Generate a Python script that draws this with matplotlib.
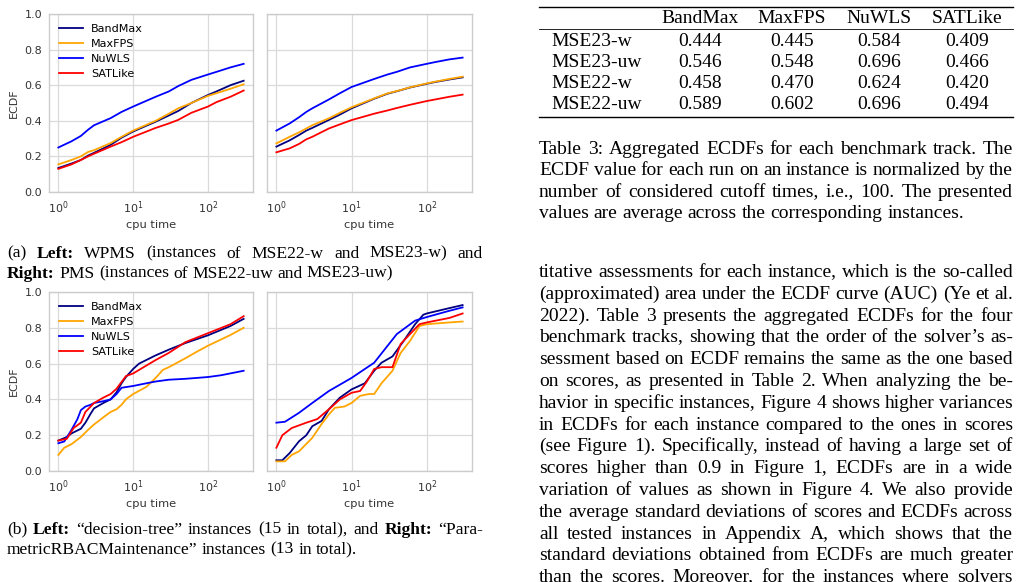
import math
import matplotlib
matplotlib.use("Agg")
import matplotlib.pyplot as plt
from matplotlib.lines import Line2D

W, H = 1023, 582

solvers = ["BandMax", "MaxFPS", "NuWLS", "SATLike"]
colors = ["#000080", "#ffa500", "#0000ff", "#ff0000"]

# (a) left: WPMS, (a) right: PMS  -- shared time grid
a_t = [1, 1.5, 2, 2.5, 3, 5, 7, 10, 20, 30, 40, 60, 100, 130, 200, 300]
wpms_bandmax = [0.135, 0.16, 0.18, 0.205, 0.22, 0.265, 0.305, 0.34, 0.395, 0.43, 0.455, 0.50, 0.545, 0.565, 0.60, 0.625]
wpms_maxfps = [0.155, 0.18, 0.20, 0.225, 0.235, 0.275, 0.31, 0.345, 0.40, 0.44, 0.47, 0.50, 0.54, 0.555, 0.58, 0.605]
wpms_nuwls = [0.25, 0.285, 0.315, 0.35, 0.375, 0.415, 0.45, 0.48, 0.535, 0.565, 0.595, 0.63, 0.66, 0.675, 0.70, 0.72]
wpms_satlike = [0.13, 0.155, 0.18, 0.20, 0.215, 0.255, 0.28, 0.31, 0.36, 0.385, 0.405, 0.445, 0.48, 0.505, 0.535, 0.57]

pms_bandmax = [0.255, 0.29, 0.32, 0.345, 0.36, 0.405, 0.435, 0.47, 0.524, 0.552, 0.566, 0.587, 0.608, 0.618, 0.632, 0.644]
pms_maxfps = [0.273, 0.31, 0.335, 0.357, 0.375, 0.414, 0.445, 0.476, 0.526, 0.554, 0.567, 0.588, 0.61, 0.62, 0.635, 0.648]
pms_nuwls = [0.345, 0.385, 0.42, 0.45, 0.47, 0.52, 0.555, 0.59, 0.635, 0.66, 0.675, 0.70, 0.72, 0.73, 0.745, 0.755]
pms_satlike = [0.223, 0.245, 0.27, 0.296, 0.31, 0.357, 0.38, 0.404, 0.44, 0.458, 0.472, 0.49, 0.511, 0.52, 0.535, 0.547]

# (b) left: decision-tree
dt_bandmax_t = [1, 1.3, 1.5, 2, 2.3, 2.7, 3, 4, 5, 6, 7, 8, 10, 12, 20, 30, 50, 100, 200, 300]
dt_bandmax = [0.17, 0.19, 0.21, 0.236, 0.27, 0.32, 0.35, 0.38, 0.40, 0.44, 0.49, 0.525, 0.57, 0.60, 0.646, 0.678, 0.715, 0.758, 0.81, 0.85]
dt_maxfps_t = [1, 1.2, 1.5, 2, 2.5, 3, 4, 5, 6, 7, 8, 10, 15, 20, 25, 30, 50, 70, 100, 200, 300]
dt_maxfps = [0.09, 0.13, 0.15, 0.19, 0.23, 0.26, 0.30, 0.33, 0.345, 0.37, 0.40, 0.43, 0.47, 0.52, 0.565, 0.58, 0.63, 0.665, 0.70, 0.76, 0.80]
dt_nuwls_t = [1, 1.2, 1.5, 1.8, 2, 2.3, 2.7, 3, 4, 5, 6, 7, 10, 15, 20, 30, 50, 100, 150, 300]
dt_nuwls = [0.155, 0.165, 0.23, 0.29, 0.34, 0.36, 0.37, 0.38, 0.39, 0.40, 0.43, 0.465, 0.475, 0.49, 0.50, 0.51, 0.515, 0.525, 0.535, 0.56]
dt_satlike_t = [1, 1.3, 1.6, 2, 2.3, 2.7, 3, 4, 5, 6, 8, 10, 20, 30, 50, 100, 200, 300]
dt_satlike = [0.17, 0.18, 0.24, 0.27, 0.33, 0.36, 0.38, 0.41, 0.43, 0.46, 0.53, 0.545, 0.62, 0.66, 0.72, 0.77, 0.82, 0.865]

# (b) right: ParametricRBACMaintenance
rb_bandmax_t = [1, 1.2, 1.5, 2, 2.5, 3, 4, 5, 7, 10, 15, 20, 25, 35, 50, 70, 90, 100, 200, 300]
rb_bandmax = [0.06, 0.06, 0.10, 0.166, 0.20, 0.25, 0.28, 0.345, 0.41, 0.456, 0.49, 0.56, 0.605, 0.64, 0.73, 0.82, 0.873, 0.88, 0.91, 0.927]
rb_maxfps_t = [1, 1.3, 1.6, 2, 3, 4, 5, 6, 8, 10, 13, 17, 20, 25, 35, 45, 60, 80, 100, 200, 300]
rb_maxfps = [0.054, 0.054, 0.09, 0.11, 0.185, 0.263, 0.316, 0.353, 0.36, 0.38, 0.42, 0.43, 0.43, 0.49, 0.56, 0.66, 0.727, 0.81, 0.82, 0.83, 0.835]
rb_nuwls_t = [1, 1.3, 2, 3, 5, 10, 20, 40, 70, 100, 200, 300]
rb_nuwls = [0.27, 0.275, 0.325, 0.38, 0.447, 0.52, 0.605, 0.765, 0.84, 0.86, 0.895, 0.914]
rb_satlike_t = [1, 1.2, 1.6, 2.5, 3.5, 5, 7, 10, 13, 16, 20, 25, 35, 45, 60, 80, 100, 200, 300]
rb_satlike = [0.13, 0.20, 0.24, 0.27, 0.29, 0.345, 0.40, 0.437, 0.447, 0.50, 0.57, 0.58, 0.58, 0.71, 0.765, 0.82, 0.83, 0.855, 0.88]

table_rows = ["MSE23-w", "MSE23-uw", "MSE22-w", "MSE22-uw"]
table_vals = [["0.444", "0.445", "0.584", "0.409"],
              ["0.546", "0.548", "0.696", "0.466"],
              ["0.458", "0.470", "0.624", "0.420"],
              ["0.589", "0.602", "0.696", "0.494"]]

fig = plt.figure(figsize=(W / 100, H / 100), dpi=100)


def px_axes(x0, y0, x1, y1):
    return fig.add_axes([x0 / W, 1 - y1 / H, (x1 - x0) / W, (y1 - y0) / H])


def style(ax, show_y):
    ax.set_xscale("log")
    ax.set_xlim(0.75, 400)
    ax.set_ylim(0, 1)
    ax.set_yticks([0, 0.2, 0.4, 0.6, 0.8, 1.0])
    ax.grid(True, color="#dadada", lw=0.9)
    ax.set_axisbelow(True)
    for s in ax.spines.values():
        s.set_color("#cccccc")
        s.set_linewidth(1.0)
    ax.tick_params(length=0, labelsize=8, colors="#333333", pad=5)
    ax.minorticks_off()
    ax.set_xlabel("cpu time", fontsize=8.2, color="#333333", labelpad=3)
    if show_y:
        ax.set_ylabel("ECDF", fontsize=8, color="#333333", labelpad=4)
    else:
        ax.set_yticklabels([])


panels = [
    (px_axes(49, 14, 253, 192), [a_t] * 4, [wpms_bandmax, wpms_maxfps, wpms_nuwls, wpms_satlike], True),
    (px_axes(267, 14, 472, 192), [a_t] * 4, [pms_bandmax, pms_maxfps, pms_nuwls, pms_satlike], False),
    (px_axes(49, 292, 253, 471), [dt_bandmax_t, dt_maxfps_t, dt_nuwls_t, dt_satlike_t],
     [dt_bandmax, dt_maxfps, dt_nuwls, dt_satlike], True),
    (px_axes(267, 292, 472, 471), [rb_bandmax_t, rb_maxfps_t, rb_nuwls_t, rb_satlike_t],
     [rb_bandmax, rb_maxfps, rb_nuwls, rb_satlike], False),
]

for ax, ts, ys, left in panels:
    for t, y, name, c in zip(ts, ys, solvers, colors):
        ax.plot(t, y, color=c, lw=1.3, label=name)
    style(ax, left)
    if left:
        ax.legend(loc="upper left", frameon=False, fontsize=8, handlelength=2.2,
                  labelspacing=0.45, handletextpad=0.7)

# ---- text helpers (justified serif text like the paper page)
r = fig.canvas.get_renderer()
serif = "Liberation Serif"


def ptext(x, y, s, size, weight="normal", ha="left"):
    # y is a top-down pixel baseline; nudge by the fractional descent so that
    # words with commas etc. share one baseline after Agg rounding
    t = fig.text(x / W, 0, s, fontsize=size, family=serif, fontweight=weight,
                 ha=ha, va="baseline", color="black")
    d = r.get_text_width_height_descent(s, t.get_fontproperties(), ismath=False)[2]
    t.set_y((H - round(y) + (d - math.floor(d))) / H)
    return t


def put_line(text, x0, x1, y, size, just=True):
    arts = []
    for w in text.split(" "):
        bold = w.startswith("*")
        arts.append(ptext(0, y, w.lstrip("*"), size, "bold" if bold else "normal"))
    widths = [t.get_window_extent(r).width for t in arts]
    if just and len(arts) > 1:
        gap = (x1 - x0 - sum(widths)) / (len(arts) - 1)
    else:
        gap = size * 100 / 72 * 0.25
    x = x0
    for t, w in zip(arts, widths):
        t.set_x(x / W)
        x += w + gap


def put_par(lines, x0, x1, y0, lead, size):
    for i, ln in enumerate(lines):
        put_line(ln, x0, x1, y0 + i * lead, size, just=(i < len(lines) - 1))


cap_a = ["(a) *Left: WPMS (instances of MSE22-w and MSE23-w) and",
         "*Right: PMS (instances of MSE22-uw and MSE23-uw)"]
cap_b = ["(b) *Left: \u201cdecision-tree\u201d instances (15 in total), and *Right: \u201cPara-",
         "metricRBACMaintenance\u201d instances (13 in total)."]
put_par(cap_a, 7, 483, 258, 20, 12.6)
put_par(cap_b, 7, 483, 534, 20.5, 12.6)

# ---- table
def hline(y, lw):
    fig.add_artist(Line2D([539 / W, 1013 / W], [1 - y / H, 1 - y / H], color="black", lw=lw))


hline(6.5, 1.0)
hline(28.5, 0.6)
hline(117, 1.0)
col_x = [700, 792, 879, 967]
for name, cx in zip(solvers, col_x):
    ptext(cx, 23, name, 14, ha="center")
for i, (rn, vals) in enumerate(zip(table_rows, table_vals)):
    yb = 45.5 + i * 21.3
    ptext(551, yb, rn, 14)
    for v, cx in zip(vals, col_x):
        ptext(cx, yb, v, 14, ha="center")

cap_t = ["Table 3: Aggregated ECDFs for each benchmark track. The",
         "ECDF value for each run on an instance is normalized by the",
         "number of considered cutoff times, i.e., 100. The presented",
         "values are average across the corresponding instances."]
put_par(cap_t, 539, 1013, 154, 21.3, 14)

body = ["titative assessments for each instance, which is the so-called",
        "(approximated) area under the ECDF curve (AUC) (Ye et al.",
        "2022). Table 3 presents the aggregated ECDFs for the four",
        "benchmark tracks, showing that the order of the solver\u2019s as-",
        "sessment based on ECDF remains the same as the one based",
        "on scores, as presented in Table 2. When analyzing the be-",
        "havior in specific instances, Figure 4 shows higher variances",
        "in ECDFs for each instance compared to the ones in scores",
        "(see Figure 1). Specifically, instead of having a large set of",
        "scores higher than 0.9 in Figure 1, ECDFs are in a wide",
        "variation of values as shown in Figure 4. We also provide",
        "the average standard deviations of scores and ECDFs across",
        "all tested instances in Appendix A, which shows that the",
        "standard deviations obtained from ECDFs are much greater",
        "than the scores. Moreover, for the instances where solvers"]
for i, ln in enumerate(body):
    put_line(ln, 539, 1013, 277 + i * 21.8, 14, just=True)

fig.savefig("out.png", dpi=100)
